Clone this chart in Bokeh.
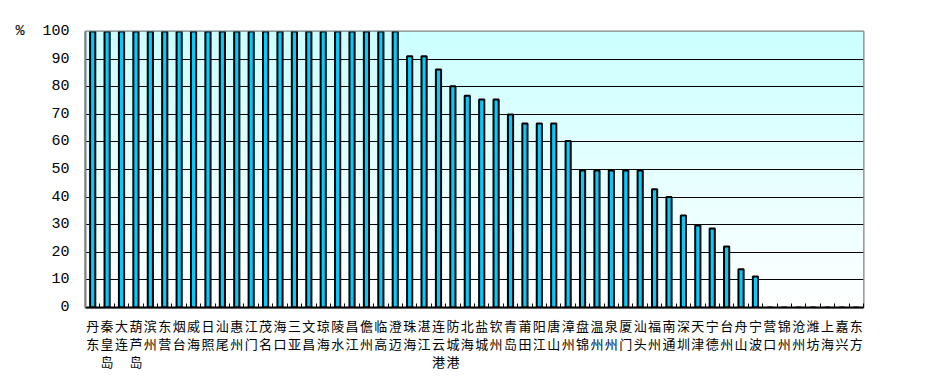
import numpy as np
from bokeh.plotting import figure
from bokeh.models import FixedTicker, Range1d, ColumnDataSource
from bokeh.embed import file_html
from bokeh.resources import INLINE

cities = ["丹东", "秦皇岛", "大连", "葫芦岛", "滨州", "东营", "烟台", "威海", "日照", "汕尾",
          "惠州", "江门", "茂名", "海口", "三亚", "文昌", "琼海", "陵水", "昌江", "儋州",
          "临高", "澄迈", "珠海", "湛江", "连云港", "防城港", "北海", "盐城", "钦州", "青岛",
          "莆田", "阳江", "唐山", "漳州", "盘锦", "温州", "泉州", "厦门", "汕头", "福州",
          "南通", "深圳", "天津", "宁德", "台州", "舟山", "宁波", "营口", "锦州", "沧州",
          "潍坊", "上海", "嘉兴", "东方"]
values = [100] * 22 + [91, 91, 86.2, 80.2, 76.7, 75.4, 75.4, 69.9, 66.7, 66.7,
                       66.7, 60.3, 49.6, 49.6, 49.6, 49.6, 49.6, 42.8, 40.0, 33.3,
                       29.7, 28.6, 22.1, 13.9, 11.2, 0, 0, 0, 0, 0, 0, 0]
y_ticks = [0, 10, 20, 30, 40, 50, 60, 70, 80, 90, 100]

n = len(cities)
xs = [i + 0.5 for i in range(n)]

p = figure(width=909, height=372, output_backend="svg", toolbar_location=None,
           x_range=Range1d(0, n), y_range=Range1d(0, 100),
           min_border_left=85, min_border_top=31, min_border_right=46, min_border_bottom=65)
p.frame_width = 778
p.frame_height = 276

# gradient background
H = 200
top = np.array([204, 255, 255], dtype=float)
bot = np.array([255, 255, 255], dtype=float)
img = np.zeros((H, 1), dtype=np.uint32)
view = img.view(dtype=np.uint8).reshape((H, 1, 4))
for r in range(H):
    t = r / (H - 1)
    c = bot + (top - bot) * t
    view[r, 0, 0] = int(c[0]); view[r, 0, 1] = int(c[1]); view[r, 0, 2] = int(c[2]); view[r, 0, 3] = 255
p.image_rgba(image=[img], x=0, y=0, dw=n, dh=100, level="image")

src = ColumnDataSource(dict(x=xs, top=values))
p.vbar(x="x", top="top", width=0.36, bottom=0, source=src,
       fill_color="#00CCFF", line_color="black", line_width=2)

p.outline_line_color = "#808080"
p.outline_line_width = 2

p.ygrid.ticker = FixedTicker(ticks=y_ticks)
p.ygrid.grid_line_color = "black"
p.ygrid.grid_line_width = 1
p.xgrid.grid_line_color = None

p.yaxis.ticker = FixedTicker(ticks=y_ticks)
overrides = {t: str(t) for t in y_ticks}
overrides[100] = "%\u00a0\u00a0100"
p.yaxis.major_label_overrides = overrides
p.yaxis.major_tick_out = 0
p.yaxis.major_tick_in = 0
p.yaxis.minor_tick_line_color = None
p.yaxis.axis_line_color = "#808080"
p.yaxis.axis_line_width = 2
p.yaxis.major_label_standoff = 16
p.yaxis.major_label_text_font = "Liberation Mono"
p.yaxis.major_label_text_font_size = "15px"
p.yaxis.major_label_text_color = "black"

p.xaxis.ticker = FixedTicker(ticks=xs, minor_ticks=list(range(n + 1)))
p.xaxis.major_label_overrides = {x: "\n".join(list(c)) for x, c in zip(xs, cities)}
p.xaxis.major_tick_line_color = None
p.xaxis.major_tick_out = 0
p.xaxis.major_tick_in = 0
p.xaxis.minor_tick_in = 4
p.xaxis.minor_tick_out = 0
p.xaxis.minor_tick_line_color = "black"
p.xaxis.axis_line_color = "black"
p.xaxis.axis_line_width = 2
p.xaxis.major_label_standoff = 8
p.xaxis.major_label_text_font = "Noto Sans CJK SC"
p.xaxis.major_label_text_font_size = "13px"
p.xaxis.major_label_text_line_height = 0.95
p.xaxis.major_label_text_color = "black"

open("out.html", "w").write(file_html(p, INLINE))
